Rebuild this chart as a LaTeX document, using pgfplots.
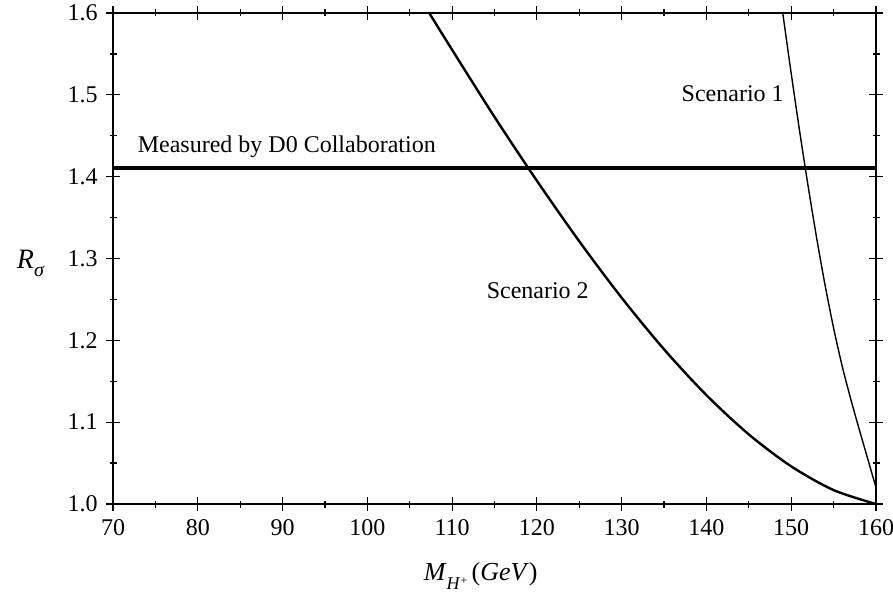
\documentclass[border=0pt]{standalone}
\usepackage{pgfplots}
\pgfplotsset{compat=1.18}
\usepackage{fontspec}
\setmainfont{Liberation Serif}
\begin{document}
\fontsize{12}{14}\selectfont
\begin{tikzpicture}
\begin{axis}[
  name=ax,
  scale only axis,
  width=381.5pt, height=245.5pt,
  xmin=70, xmax=160, ymin=1.0, ymax=1.6,
  xtick={70,80,...,160},
  ytick={1.0,1.1,...,1.6},
  minor x tick num=1, minor y tick num=1,
  tick align=center,
  major tick length=7pt, minor tick length=3.5pt,
  every tick/.style={black, line width=0.6pt},
  axis line style={line width=0.6pt},
  /pgf/number format/assume math mode=true,
  yticklabel style={/pgf/number format/.cd, fixed, fixed zerofill, precision=1},
  ticklabel style={font=\fontsize{12}{14}\selectfont},
  every axis x label/.style={at={(rel axis cs:0.482,0)}, anchor=north, yshift=-29pt, inner sep=0pt},
  every axis y label/.style={at={(rel axis cs:0,0.49)}, anchor=east, xshift=-34pt, inner sep=0pt},
  xlabel={\fontsize{13}{15}\selectfont\textit{M}\raisebox{-0.8ex}{\fontsize{9}{10}\selectfont\textit{H}\raisebox{0.7ex}{\fontsize{6}{7}\selectfont+}}\,(\textit{GeV})},
  ylabel={\fontsize{14}{16}\selectfont\textit{R}\raisebox{-0.6ex}{\fontsize{10}{11}\selectfont\textit{σ}}},
]
% measured value
\addplot[black, line width=2pt] coordinates {(70,1.41) (160,1.41)};
% scenario 2
\addplot[black, line width=1.2pt, smooth] coordinates {
  (107.3,1.600) (110,1.555) (115,1.473) (120,1.395) (125,1.321) (130,1.252)
  (135,1.189) (140,1.133) (145,1.085) (150,1.046) (155,1.017) (160,1.000)};
% scenario 1
\addplot[black, line width=0.7pt, smooth] coordinates {
  (149,1.600) (150,1.526) (151,1.455) (152,1.388) (153,1.325) (154,1.267)
  (155,1.215) (156,1.169) (157,1.129) (158,1.092) (159,1.056) (160,1.020)};
\node at (axis cs:143.1,1.501) {Scenario 1};
\node at (axis cs:120.1,1.261) {Scenario 2};
\node at (axis cs:90.5,1.437) {Measured by D0 Collaboration};
\end{axis}
\pgfresetboundingbox
\useasboundingbox ([shift={(-56.5pt,-44pt)}]ax.south west) rectangle ([shift={(8.5pt,6.5pt)}]ax.north east);
\end{tikzpicture}
\end{document}
